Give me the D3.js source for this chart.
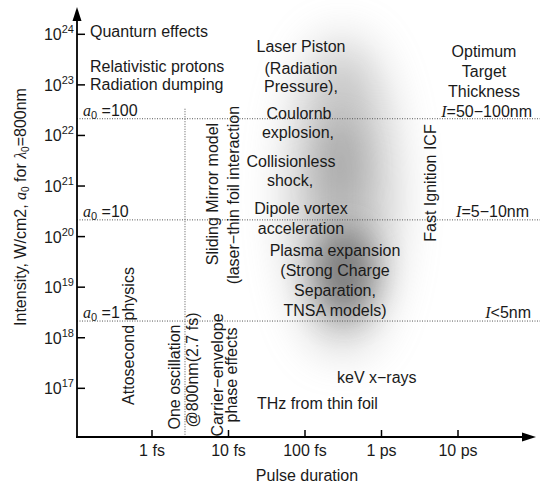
<!DOCTYPE html>
<html>
<head>
<meta charset="utf-8">
<script src="https://cdn.jsdelivr.net/npm/d3@7"></script>
<style>
  html, body { margin: 0; padding: 0; background: #fff; }
  svg { display: block; }
  text { font-family: "Liberation Sans", Arial, sans-serif; font-size: 16px; fill: #1a1a1a; }
  .it { font-family: "Liberation Serif", "Times New Roman", serif; font-style: italic; }
</style>
</head>
<body>
<svg id="chart" width="542" height="485"></svg>
<script>
// ---- data ----
const xTickValues = [1, 10, 100, 1000, 10000];          // fs
const xTickLabels = ["1 fs", "10 fs", "100 fs", "1 ps", "10 ps"];
const yTickExponents = [17, 18, 19, 20, 21, 22, 23, 24]; // W/cm2 = 10^e
const a0Values = [1, 10, 100];
const a0Intensities = [2.14e18, 2.14e20, 2.14e22];      // W/cm2 at 800 nm
const oscillationFs = 2.7;
const xTitle = "Pulse duration";
const leftNotes = ["Quanturn effects", "Relativistic protons", "Radiation dumping"];
const centreNotes1 = ["Laser Piston", "(Radiation", "Pressure),", "Coulornb", "explosion,", "Collisionless", "shock,", "Dipole vortex", "acceleration"];
const centreNotes2 = ["Plasma expansion", "(Strong Charge", "Separation,", "TNSA models)"];
const thicknessNotes = ["Optimum", "Target", "Thickness"];
const thicknessLevels = ["=50−100nm", "=5−10nm", "<5nm"];
const verticalNotes = [
  "Attosecond physics", "One oscillation", "@800nm(2.7 fs)",
  "Carrier−envelope", "phase effects", "Sliding Mirror model",
  "(laser−thin foil interaction", "Fast Ignition ICF"
];
const lowNotes = ["keV x−rays", "THz from thin foil"];

// ---- scales ----
const svg = d3.select("#chart");
const x = d3.scaleLog().domain([0.1, 1e5]).range([75.5, 534.5]);
const y = d3.scaleLog().domain([1e16, 1e24]).range([438.9, 34.3]);
const axX = 77, axY = 437;

// ---- blurred gray region ----
const defs = svg.append("defs");
defs.append("filter").attr("id", "blur").attr("x", "-100%").attr("y", "-100%")
  .attr("width", "300%").attr("height", "300%")
  .append("feGaussianBlur").attr("stdDeviation", 24);
defs.append("filter").attr("id", "blur2").attr("x", "-100%").attr("y", "-100%")
  .attr("width", "300%").attr("height", "300%")
  .append("feGaussianBlur").attr("stdDeviation", 16);
const blob = svg.append("g");
blob.append("ellipse").attr("cx", 342).attr("cy", 195).attr("rx", 50).attr("ry", 155)
  .attr("fill", "#888").attr("opacity", 0.5).attr("filter", "url(#blur)");
blob.append("ellipse").attr("cx", 340).attr("cy", 165).attr("rx", 22).attr("ry", 45)
  .attr("fill", "#777").attr("opacity", 0.3).attr("filter", "url(#blur2)");
blob.append("ellipse").attr("cx", 345).attr("cy", 272).attr("rx", 30).attr("ry", 45)
  .attr("fill", "#444").attr("opacity", 0.55).attr("filter", "url(#blur2)");

// ---- dotted reference lines ----
svg.selectAll("line.a0").data(a0Intensities).enter().append("line")
  .attr("x1", axX).attr("x2", 540)
  .attr("y1", d => y(d)).attr("y2", d => y(d))
  .attr("stroke", "#555").attr("stroke-width", 1).attr("stroke-dasharray", "1,1.5");
svg.append("line")
  .attr("x1", x(oscillationFs)).attr("x2", x(oscillationFs))
  .attr("y1", y(a0Intensities[2]) - 10).attr("y2", axY)
  .attr("stroke", "#555").attr("stroke-width", 1).attr("stroke-dasharray", "1,1.5");

// ---- axes ----
svg.append("line").attr("x1", axX).attr("x2", axX).attr("y1", axY).attr("y2", 18)
  .attr("stroke", "#000").attr("stroke-width", 1.8);
svg.append("path").attr("d", `M${axX},7 L${axX - 4.5},21 L${axX + 4.5},21 Z`).attr("fill", "#000");
svg.append("line").attr("x1", axX - 1).attr("x2", 526).attr("y1", axY).attr("y2", axY)
  .attr("stroke", "#000").attr("stroke-width", 1.8);
svg.append("path").attr("d", `M536,${axY} L522,${axY - 4.5} L522,${axY + 4.5} Z`).attr("fill", "#000");

// y ticks
const yT = svg.append("g");
yTickExponents.forEach(e => {
  const yy = y(Math.pow(10, e));
  yT.append("line").attr("x1", axX).attr("x2", axX + 8).attr("y1", yy).attr("y2", yy)
    .attr("stroke", "#000").attr("stroke-width", 1.5);
  const t = yT.append("text").attr("x", 74).attr("y", yy + 6).attr("text-anchor", "end");
  t.append("tspan").text("10");
  t.append("tspan").attr("dy", -7).attr("font-size", 11).text(String(e));
});

// x ticks
xTickValues.forEach((v, i) => {
  const xx = x(v);
  svg.append("line").attr("x1", xx).attr("x2", xx).attr("y1", axY).attr("y2", axY - 7)
    .attr("stroke", "#000").attr("stroke-width", 1.5);
  svg.append("text").attr("x", xx).attr("y", 456).attr("text-anchor", "middle").text(xTickLabels[i]);
});

// axis titles
svg.append("text").attr("x", 307).attr("y", 481).attr("text-anchor", "middle").text(xTitle);
const yt = svg.append("text").attr("transform", "translate(26,207) rotate(-90)").attr("text-anchor", "middle");
yt.append("tspan").text("Intensity, W/cm2,  ");
yt.append("tspan").attr("class", "it").text("a");
yt.append("tspan").attr("font-size", 10).attr("dy", 3).text("0");
yt.append("tspan").attr("dy", -3).text(" for ");
yt.append("tspan").attr("class", "it").text("λ");
yt.append("tspan").attr("font-size", 10).attr("dy", 3).text("0");
yt.append("tspan").attr("dy", -3).text("=800nm");

// a0 labels
a0Values.forEach((a, i) => {
  const t = svg.append("text").attr("x", 83).attr("y", y(a0Intensities[i]) - 3);
  t.append("tspan").attr("class", "it").text("a");
  t.append("tspan").attr("font-size", 11).attr("dy", 3).text("0");
  t.append("tspan").attr("dy", -3).text(" =" + a);
});

// left notes
[37, 72, 90].forEach((b, i) => {
  svg.append("text").attr("x", 90).attr("y", b).text(leftNotes[i]);
});

// centre notes
const c1Base = [52, 74, 92, 119, 138, 167, 186, 214, 234];
const c1Cx = [301, 301, 301, 299, 298, 291, 290, 301, 301];
centreNotes1.forEach((s, i) => {
  svg.append("text").attr("x", c1Cx[i]).attr("y", c1Base[i]).attr("text-anchor", "middle").text(s);
});
const c2Base = [256, 276, 296, 316];
centreNotes2.forEach((s, i) => {
  svg.append("text").attr("x", 335).attr("y", c2Base[i]).attr("text-anchor", "middle").text(s);
});

// thickness notes
[57, 77, 97].forEach((b, i) => {
  svg.append("text").attr("x", 484).attr("y", b).attr("text-anchor", "middle").text(thicknessNotes[i]);
});
[[532, 117], [529, 217], [531, 318]].forEach((p, i) => {
  const t = svg.append("text").attr("x", p[0]).attr("y", p[1]).attr("text-anchor", "end");
  t.append("tspan").attr("class", "it").text("I");
  t.append("tspan").text(thicknessLevels[i]);
});

// vertical notes: [baselineX, centreY]
const vPos = [[134, 336], [180, 377], [198, 370], [223, 375], [237, 375], [218, 194], [239, 195], [436, 183]];
verticalNotes.forEach((s, i) => {
  svg.append("text").attr("transform", `translate(${vPos[i][0]},${vPos[i][1]}) rotate(-90)`)
    .attr("text-anchor", "middle").text(s);
});

// low notes
svg.append("text").attr("x", 337).attr("y", 383).text(lowNotes[0]);
svg.append("text").attr("x", 257).attr("y", 409).text(lowNotes[1]);
</script>
</body>
</html>
